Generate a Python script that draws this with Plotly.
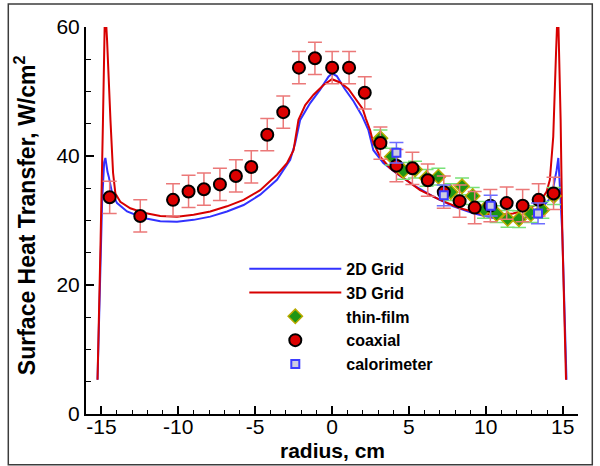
import plotly.graph_objects as go

# ---------------- data ----------------
x_2d = [-15.25, -15.1, -14.95, -14.82, -14.74, -14.6, -14.52, -14.3, -13.98, -13.33, -12.25, -11.17,
        -10.08, -9.0, -7.92, -6.83, -5.75, -4.67, -3.58, -2.72, -2.39, -2.07, -1.42, -0.77, -0.23,
        0.0, 0.31, 0.8, 1.4, 1.94, 2.37, 2.69, 3.34, 4.21, 5.29, 6.59, 7.89, 9.19, 10.49, 11.79,
        12.88, 13.74, 14.28, 14.61, 14.72, 14.82, 14.98, 15.1, 15.25]
y_2d = [5.3, 20.0, 33.0, 39.0, 39.7, 37.5, 36.8, 34.2, 32.7, 31.4, 30.4, 29.9,
        29.8, 30.1, 30.6, 31.4, 32.4, 34.0, 36.3, 39.4, 42.0, 45.6, 48.2, 50.3, 52.3,
        52.8, 52.4, 50.5, 48.5, 46.3, 44.0, 40.9, 38.9, 37.3, 35.5, 33.7, 32.2, 31.1, 30.4, 30.1,
        30.6, 32.2, 33.7, 37.8, 39.7, 35.3, 28.0, 18.0, 5.3]

x_3d = [-15.25, -15.15, -15.05, -14.9, -14.78, -14.7, -14.63, -14.41, -14.24, -14.09, -13.77, -13.12,
        -12.25, -11.17, -10.08, -9.0, -7.92, -6.83, -5.75, -4.67, -3.58, -2.93, -2.5, -2.18, -1.74,
        -1.2, -0.55, 0.0, 0.53, 1.07, 1.61, 2.0, 2.2, 2.48, 2.69, 3.13, 3.78, 4.64, 5.73, 7.03, 8.33,
        9.63, 10.93, 11.79, 12.88, 13.53, 13.96, 14.17, 14.39, 14.57, 14.65, 14.72, 14.87, 14.98,
        15.1, 15.22]
y_3d = [5.3, 15.0, 27.0, 45.0, 61.0, 61.0, 58.0, 45.6, 37.4, 34.2, 32.9, 31.9,
        31.2, 30.7, 30.6, 30.9, 31.4, 32.2, 33.2, 34.7, 37.1, 38.9, 40.9, 45.6, 47.9,
        49.5, 51.0, 51.9, 51.4, 50.4, 48.6, 47.3, 45.8, 44.0, 42.0, 39.9, 38.1, 36.6, 34.7, 33.2, 31.9,
        31.1, 30.9, 31.1, 31.9, 32.9, 34.5, 36.3, 43.0, 55.9, 61.0, 61.0, 45.6, 28.0,
        15.0, 5.3]

thin_x = [3.15, 3.89, 4.64, 5.4, 6.15, 6.92, 7.72, 8.46, 9.15, 9.89, 10.71, 11.42, 12.16, 12.94, 13.68, 14.43]
thin_y = [42.75, 39.9, 37.7, 37.9, 36.6, 36.8, 34.4, 35.3, 33.8, 31.65, 31.0, 30.25, 30.2, 31.0, 31.65, 33.8]
thin_err = 1.3

coax_x = [-14.46, -12.47, -10.34, -9.33, -8.33, -7.29, -6.25, -5.25, -4.21, -3.17, -2.15, -1.11, 0.01,
          1.11, 2.13, 3.15, 4.19, 5.23, 6.23, 7.27, 8.3, 9.28, 10.3, 11.36, 12.4, 13.44, 14.41]
coax_y = [33.6, 30.7, 33.2, 34.5, 34.85, 35.6, 36.9, 38.3, 43.3, 46.8, 53.7, 55.15, 53.7,
          53.7, 49.8, 42.0, 38.5, 38.1, 36.25, 34.4, 33.0, 32.0, 32.3, 32.7, 32.3, 33.2, 34.2]
coax_err = 2.5

cal_x = [4.19, 7.27, 10.32, 13.4]
cal_y = [40.5, 33.9, 32.3, 31.1]
cal_err = 1.6

x_ticks = [-15, -10, -5, 0, 5, 10, 15]
y_ticks = [0, 20, 40, 60]

FONT = "Liberation Sans, Arial, sans-serif"

# pixel geometry helpers (plot area)
L, R, T, B = 85.7, 577.7, 27.0, 414.3
W, H = 600, 466
def px2paper_x(px):
    return (px - L) / (R - L)
def py2paper_y(py):
    return (B - py) / (B - T)

fig = go.Figure()
fig.add_trace(go.Scatter(x=x_2d, y=y_2d, mode="lines", name="2D Grid",
                         line=dict(color="rgb(50,50,255)", width=2)))
fig.add_trace(go.Scatter(x=x_3d, y=y_3d, mode="lines", name="3D Grid",
                         line=dict(color="rgb(215,0,0)", width=2)))
fig.add_trace(go.Scatter(x=thin_x, y=thin_y, mode="markers", name="thin-film",
                         marker=dict(symbol="diamond", size=11, color="rgb(30,150,20)",
                                     line=dict(color="rgb(185,170,0)", width=1.5)),
                         error_y=dict(type="constant", value=thin_err, color="rgb(120,225,120)",
                                      thickness=1.5, width=7)))
fig.add_trace(go.Scatter(x=coax_x, y=coax_y, mode="markers", name="coaxial",
                         marker=dict(symbol="circle", size=12, color="rgb(220,0,0)",
                                     line=dict(color="black", width=2)),
                         error_y=dict(type="constant", value=coax_err, color="rgb(235,120,120)",
                                      thickness=1.5, width=7)))
fig.add_trace(go.Scatter(x=cal_x, y=cal_y, mode="markers", name="calorimeter",
                         marker=dict(symbol="square", size=8, color="rgb(205,205,225)",
                                     line=dict(color="rgb(60,60,255)", width=2)),
                         error_y=dict(type="constant", value=cal_err, color="rgb(110,110,255)",
                                      thickness=1.5, width=7)))

axis_common = dict(
    showline=True, linecolor="black", linewidth=2, mirror=False,
    ticks="inside", tickcolor="black", tickwidth=1.5, ticklen=8,
    showgrid=False, zeroline=False,
    tickfont=dict(family=FONT, size=21, color="black"),
)
fig.update_xaxes(range=[-16, 16], tickvals=x_ticks, ticktext=[str(v) for v in x_ticks],
                 ticklabelstandoff=-7,
                 minor=dict(dtick=1, tick0=0, ticks="inside", ticklen=4, tickcolor="black", tickwidth=1),
                 **axis_common)
fig.update_yaxes(range=[0, 60], tickvals=y_ticks, ticktext=[str(v) for v in y_ticks],
                 minor=dict(dtick=5, tick0=0, ticks="inside", ticklen=5, tickcolor="black", tickwidth=1),
                 **axis_common)

fig.update_layout(
    width=W, height=H,
    margin=dict(l=L, r=W - R, t=T, b=H - B, autoexpand=False),
    paper_bgcolor="white", plot_bgcolor="white",
    showlegend=True,
    legend=dict(x=px2paper_x(244), y=py2paper_y(252), xanchor="left", yanchor="top",
                bgcolor="rgba(0,0,0,0)", borderwidth=0, itemwidth=92,
                font=dict(family=FONT, size=16, color="black", weight="bold"), tracegroupgap=0,
                traceorder="normal"),
    annotations=[
        dict(text="<b>Surface Heat Transfer, W/cm<sup>2</sup></b>", textangle=-90,
             x=px2paper_x(25), y=py2paper_y(215), xref="paper", yref="paper",
             xanchor="center", yanchor="middle", showarrow=False,
             font=dict(family=FONT, size=23, color="black")),
        dict(text="<b>radius, cm</b>",
             x=0.5, y=py2paper_y(451), xref="paper", yref="paper",
             xanchor="center", yanchor="middle", showarrow=False,
             font=dict(family=FONT, size=21, color="black")),
    ],
    shapes=[
        dict(type="rect", xref="paper", yref="paper",
             x0=px2paper_x(8), x1=px2paper_x(592), y0=py2paper_y(465), y1=py2paper_y(4),
             line=dict(color="rgb(60,60,60)", width=1.5), fillcolor="rgba(0,0,0,0)", layer="below"),
    ],
)

fig.write_html("out.html")
